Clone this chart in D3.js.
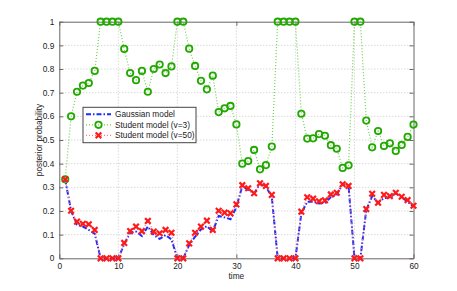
<!DOCTYPE html>
<html>
<head>
<meta charset="utf-8">
<script src="https://cdn.jsdelivr.net/npm/d3@7"></script>
<style>
  body { margin: 0; background: #fff; }
  svg text { font-family: "Liberation Sans", Arial, sans-serif; }
</style>
</head>
<body>
<svg id="chart" width="457" height="291"></svg>
<script>
// time steps 1..60
const time = d3.range(1, 61);

// Gaussian model
const gaussian = [
  0.333, 0.200, 0.142, 0.134, 0.120, 0.104, 0, 0, 0, 0,
  0.060, 0.108, 0.113, 0.094, 0.134, 0.098, 0.082, 0.098, 0.080, 0,
  0, 0.056, 0.091, 0.122, 0.136, 0.114, 0.179, 0.173, 0.165, 0.216,
  0.306, 0.289, 0.275, 0.314, 0.303, 0.260, 0, 0, 0, 0,
  0.190, 0.239, 0.239, 0.232, 0.235, 0.258, 0.268, 0.314, 0.306, 0,
  0, 0.204, 0.263, 0.235, 0.254, 0.258, 0.275, 0.258, 0.239, 0.218
];

// Student model (v=3)
const student3 = [
  0.334, 0.600, 0.704, 0.730, 0.741, 0.792, 1, 1, 1, 1,
  0.885, 0.783, 0.753, 0.792, 0.704, 0.800, 0.819, 0.783, 0.811, 1,
  1, 0.886, 0.813, 0.750, 0.714, 0.772, 0.618, 0.634, 0.644, 0.566,
  0.400, 0.411, 0.458, 0.376, 0.394, 0.472, 1, 1, 1, 1,
  0.611, 0.506, 0.507, 0.525, 0.518, 0.478, 0.463, 0.382, 0.393, 1,
  1, 0.582, 0.469, 0.538, 0.475, 0.486, 0.454, 0.479, 0.513, 0.565
];

// Student model (v=50)
const student50 = [
  0.334, 0.201, 0.155, 0.146, 0.144, 0.120, 0, 0, 0, 0,
  0.065, 0.115, 0.134, 0.115, 0.158, 0.113, 0.106, 0.120, 0.108, 0,
  0, 0.063, 0.108, 0.134, 0.159, 0.120, 0.201, 0.193, 0.190, 0.228,
  0.309, 0.296, 0.275, 0.317, 0.306, 0.268, 0, 0, 0, 0,
  0.197, 0.258, 0.252, 0.241, 0.245, 0.270, 0.277, 0.313, 0.306, 0,
  0, 0.208, 0.273, 0.235, 0.268, 0.263, 0.277, 0.260, 0.246, 0.222
];

const xTicks = [0, 10, 20, 30, 40, 50, 60];
const yTicks = [0, 0.1, 0.2, 0.3, 0.4, 0.5, 0.6, 0.7, 0.8, 0.9, 1];
const legendLabels = ['Gaussian model', 'Student model (v=3)', 'Student model (v=50)'];

const svg = d3.select('#chart');
const mLeft = 59.3, mRight = 413.5, mTop = 21.7, mBottom = 258.3;

const x = d3.scaleLinear().domain([0, 60]).range([mLeft, mRight]);
const y = d3.scaleLinear().domain([0, 1]).range([mBottom, mTop]);

const axisColor = '#666';
const tickFont = '8.3px';

// grid
const grid = svg.append('g');
xTicks.slice(1, -1).forEach((t) => {
  grid.append('line')
    .attr('x1', x(t)).attr('x2', x(t)).attr('y1', mTop).attr('y2', mBottom)
    .attr('stroke', '#bbb').attr('stroke-width', 0.8).attr('stroke-dasharray', '1,2');
});
yTicks.slice(1, -1).forEach((t) => {
  grid.append('line')
    .attr('x1', mLeft).attr('x2', mRight).attr('y1', y(t)).attr('y2', y(t))
    .attr('stroke', '#bbb').attr('stroke-width', 0.8).attr('stroke-dasharray', '1,2');
});

// axes (ticks pointing inward, on all four sides)
function styleAxis(g) {
  g.selectAll('path').attr('stroke', axisColor);
  g.selectAll('line').attr('stroke', axisColor);
  g.selectAll('text').attr('fill', '#222').style('font-size', tickFont)
    .style('font-family', '"Liberation Sans", Arial, sans-serif');
}
svg.append('g').attr('transform', `translate(0,${mBottom})`)
  .call(d3.axisBottom(x).tickValues(xTicks).tickSizeInner(-4).tickSizeOuter(0).tickPadding(5).tickFormat(d3.format('d')))
  .call(styleAxis);
svg.append('g').attr('transform', `translate(0,${mTop})`)
  .call(d3.axisTop(x).tickValues(xTicks).tickSizeInner(-4).tickSizeOuter(0).tickFormat(''))
  .call(styleAxis);
svg.append('g').attr('transform', `translate(${mLeft},0)`)
  .call(d3.axisLeft(y).tickValues(yTicks).tickSizeInner(-4).tickSizeOuter(0).tickPadding(5).tickFormat((d) => String(+d.toFixed(1))))
  .call(styleAxis);
svg.append('g').attr('transform', `translate(${mRight},0)`)
  .call(d3.axisRight(y).tickValues(yTicks).tickSizeInner(-4).tickSizeOuter(0).tickFormat(''))
  .call(styleAxis);

// axis labels
svg.append('text').attr('x', (mLeft + mRight) / 2).attr('y', 279)
  .attr('text-anchor', 'middle').style('font-size', tickFont).attr('fill', '#222').text('time');
svg.append('text').attr('transform', `translate(42,${(mTop + mBottom) / 2}) rotate(-90)`)
  .attr('text-anchor', 'middle').style('font-size', tickFont).attr('fill', '#222').text('posterior probability');

const line = d3.line().x((d, i) => x(time[i])).y((d) => y(d));

const blue = '#1a2cff', green = '#22a800', red = '#ff1a1a';

// Gaussian
svg.append('path').datum(gaussian).attr('d', line)
  .attr('fill', 'none').attr('stroke', blue).attr('stroke-width', 2)
  .attr('stroke-dasharray', '5,2,1.5,2');

// Student v=3
svg.append('path').datum(student3).attr('d', line)
  .attr('fill', 'none').attr('stroke', '#6cd04a').attr('stroke-width', 1.2)
  .attr('stroke-dasharray', '1,2');
svg.append('g').selectAll('circle').data(student3).join('circle')
  .attr('cx', (d, i) => x(time[i])).attr('cy', (d) => y(d)).attr('r', 3.2)
  .attr('fill', 'none').attr('stroke', green).attr('stroke-width', 1.8);

// Student v=50
svg.append('path').datum(student50).attr('d', line)
  .attr('fill', 'none').attr('stroke', '#ff7a7a').attr('stroke-width', 1.2)
  .attr('stroke-dasharray', '1,2');
function cross(g, cx, cy, s) {
  g.append('path')
    .attr('d', `M${cx - s},${cy - s}L${cx + s},${cy + s}M${cx - s},${cy + s}L${cx + s},${cy - s}`)
    .attr('stroke', red).attr('stroke-width', 2.2).attr('fill', 'none');
}
const crosses = svg.append('g');
student50.forEach((d, i) => cross(crosses, x(time[i]), y(d), 2.8));

// legend
const lg = svg.append('g');
lg.append('rect').attr('x', 83).attr('y', 107.3).attr('width', 113).attr('height', 35.4)
  .attr('fill', '#fff').attr('stroke', '#444').attr('stroke-width', 1);
const rowY = [114.3, 124.8, 135.3];
lg.append('line').attr('x1', 86).attr('x2', 111).attr('y1', rowY[0]).attr('y2', rowY[0])
  .attr('stroke', blue).attr('stroke-width', 2).attr('stroke-dasharray', '5,2,1.5,2');
lg.append('line').attr('x1', 86).attr('x2', 111).attr('y1', rowY[1]).attr('y2', rowY[1])
  .attr('stroke', '#6cd04a').attr('stroke-width', 1.2).attr('stroke-dasharray', '1,2');
lg.append('circle').attr('cx', 98.5).attr('cy', rowY[1]).attr('r', 3.2)
  .attr('fill', 'none').attr('stroke', green).attr('stroke-width', 1.8);
lg.append('line').attr('x1', 86).attr('x2', 111).attr('y1', rowY[2]).attr('y2', rowY[2])
  .attr('stroke', '#ff7a7a').attr('stroke-width', 1.2).attr('stroke-dasharray', '1,2');
cross(lg, 98.5, rowY[2], 2.8);
legendLabels.forEach((t, i) => {
  lg.append('text').attr('x', 115).attr('y', rowY[i] + 3)
    .style('font-size', tickFont).attr('fill', '#222').text(t);
});
</script>
</body>
</html>
